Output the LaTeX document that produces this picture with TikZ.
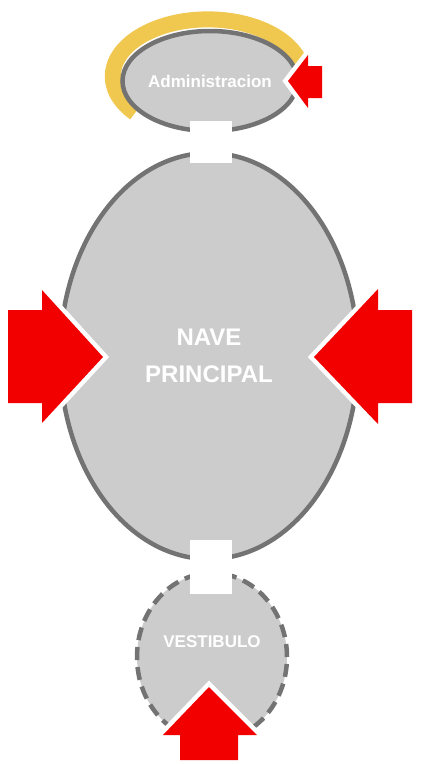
\documentclass[tikz,border=0pt]{standalone}
\usepackage{fontspec}
\setmainfont{Liberation Sans}
\usetikzlibrary{shapes.geometric}

\tikzset{
  room/.style={ellipse,fill=roomgray,draw=edgegray,line width=4.5pt,
    inner sep=0pt,text=white,align=center},
  entry/.style={fill=entryred,preaction={draw=white,line width=9pt,line join=miter}},
  passage/.style={fill=white},
}

\begin{document}
\begin{tikzpicture}[x=1pt,y=-1pt]
  \colorlet{roomgray}{black!20}
  \colorlet{edgegray}{black!55}
  \colorlet{entryred}{red!95!black}
  \definecolor{ringyellow}{RGB}{240,200,80}
  \useasboundingbox (0,0) rectangle (423,764);
  % yellow band behind the administration
  \draw[ringyellow,line width=16pt] (135,113) arc[start angle=140,end angle=345,x radius=95,y radius=57];
  % rooms
  \node[room,minimum width=174pt,minimum height=100pt,font=\bfseries\fontsize{17}{20}\selectfont]
    (admin) at (210,81) {Administracion};
  \node[room,minimum width=298pt,minimum height=406pt,font=\bfseries\fontsize{24}{37}\selectfont]
    (nave) at (209,356) {NAVE\\PRINCIPAL};
  \node[room,dash pattern=on 13pt off 7pt,minimum width=150pt,minimum height=168pt] (vestibulo) at (212,657) {};
  \node[text=white,font=\bfseries\fontsize{17}{20}\selectfont] (vlabel) at (212,642) {VESTIBULO};
  % passages between rooms
  \fill[passage] (190,121) rectangle (232,163);
  \fill[passage] (190,540) rectangle (232,594);
  % entrances
  \fill[entry] (322,66) -- (308,66) -- (308,55) -- (288,81) -- (308,108) -- (308,98) -- (322,98) -- cycle;
  \fill[entry] (8,310) -- (42,310) -- (42,290) -- (103,357) -- (42,423) -- (42,403) -- (8,403) -- cycle;
  \fill[entry] (412,310) -- (378,310) -- (378,289) -- (314,357) -- (378,424) -- (378,403) -- (412,403) -- cycle;
  \fill[entry] (180,760) -- (180,735) -- (163,735) -- (209,687) -- (257,735) -- (238,735) -- (238,760) -- cycle;
\end{tikzpicture}
\end{document}
